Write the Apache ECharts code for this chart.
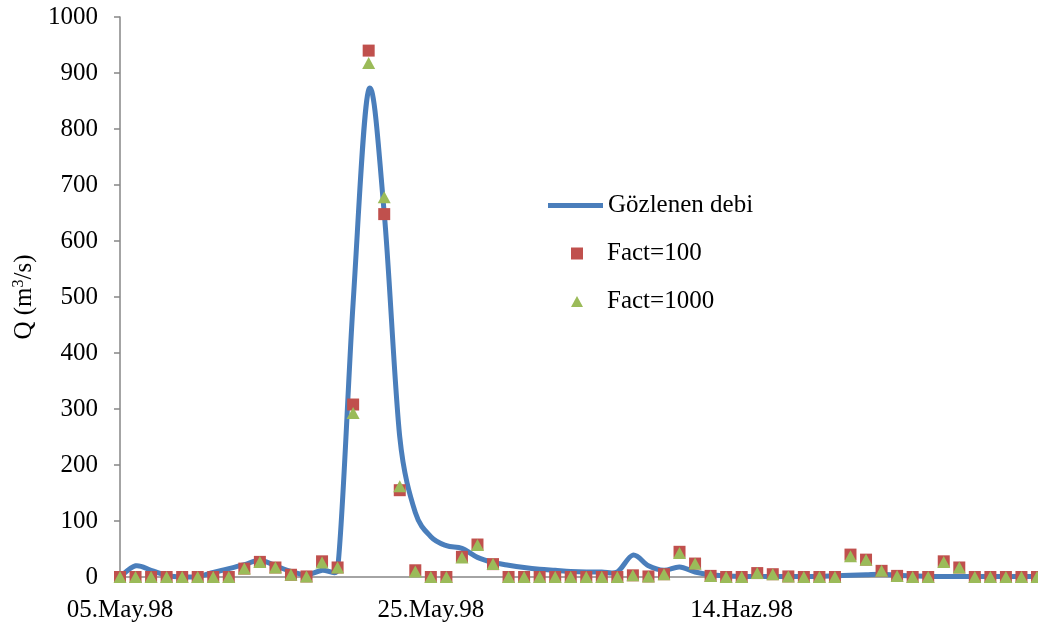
<!DOCTYPE html>
<html>
<head>
<meta charset="utf-8">
<script src="https://cdn.jsdelivr.net/npm/echarts@6/dist/echarts.min.js"></script>
<style>
  html, body { margin: 0; padding: 0; background: #ffffff; }
  #chart { width: 1038px; height: 628px; }
</style>
</head>
<body>
<div id="chart"></div>
<script>
// Daily dates, 05 May 1998 – 03 July 1998 (Turkish month abbreviations)
const days = [
  '05.May.98','06.May.98','07.May.98','08.May.98','09.May.98','10.May.98','11.May.98','12.May.98',
  '13.May.98','14.May.98','15.May.98','16.May.98','17.May.98','18.May.98','19.May.98','20.May.98',
  '21.May.98','22.May.98','23.May.98','24.May.98','25.May.98','26.May.98','27.May.98','28.May.98',
  '29.May.98','30.May.98','31.May.98',
  '01.Haz.98','02.Haz.98','03.Haz.98','04.Haz.98','05.Haz.98','06.Haz.98','07.Haz.98','08.Haz.98',
  '09.Haz.98','10.Haz.98','11.Haz.98','12.Haz.98','13.Haz.98','14.Haz.98','15.Haz.98','16.Haz.98',
  '17.Haz.98','18.Haz.98','19.Haz.98','20.Haz.98','21.Haz.98','22.Haz.98','23.Haz.98','24.Haz.98',
  '25.Haz.98','26.Haz.98','27.Haz.98','28.Haz.98','29.Haz.98','30.Haz.98',
  '01.Tem.98','02.Tem.98','03.Tem.98'
];

// Observed discharge (m3/s)
const observed = [
  0, 20, 12, 3, 0, 1, 8, 15, 22, 30,
  20, 10, 4, 12, 14, 490, 870, 650, 250, 115,
  72, 56, 51, 35, 26, 21, 17, 14, 12, 10,
  9, 9, 9, 39, 20, 12, 18, 9, 4, 2,
  1, 1, 1, 1, 1, 1, 2, 3, 4, 5,
  3, 2, 1, 1, 1, 1, 1, 1, 1, 1
];

// Simulated discharge, Fact = 100
const fact100 = [
  0, 0, 0, 0, 0, 0, 0, 0, 15, 27,
  17, 4, 1, 28, 17, 308, 940, 648, 155, 12,
  0, 0, 36, 58, 23, 0, 0, 0, 0, 0,
  0, 0, 0, 3, 1, 5, 45, 24, 2, 0,
  0, 7, 5, 1, 0, 0, 0, 40, 31, 11,
  2, 0, 0, 28, 17, 0, 0, 0, 0, 0
];

// Simulated discharge, Fact = 1000
const fact1000 = [
  0, 0, 0, 0, 0, 0, 0, 0, 15, 27,
  17, 4, 1, 26, 17, 293, 918, 678, 162, 10,
  0, 0, 35, 57, 23, 0, 0, 0, 0, 0,
  0, 0, 0, 3, 1, 5, 43, 24, 2, 0,
  0, 7, 5, 1, 0, 0, 0, 37, 31, 11,
  2, 0, 0, 27, 17, 0, 0, 0, 0, 0
];

const seriesNames = ['Gözlenen debi', 'Fact=100', 'Fact=1000'];
const labelStep = 20;   // one date label every 20 days

const FONT = '"Liberation Serif", "Times New Roman", serif';
const AXIS_GREY = '#868686';
const BLUE = '#4A7EBB', RED = '#C0504D', GREEN = '#9BBB59';

// Smoothed curve through every observed point: cubic Bezier segments with
// Catmull-Rom tangents (1/6), each control arm limited to half the length of
// the segment it belongs to so short flat segments do not overshoot.
function renderObserved(params, api) {
  if (params.dataIndex !== 0) return null;
  const n = observed.length;
  const pts = [];
  for (let i = 0; i < n; i++) pts.push(api.coord([i, observed[i]]));
  const ARM_LIMIT = 0.5;
  const arm = (a, b, from, to) => {
    let ax = (b[0] - a[0]) / 6, ay = (b[1] - a[1]) / 6;
    const len = Math.hypot(ax, ay);
    const seg = Math.hypot(to[0] - from[0], to[1] - from[1]);
    if (len > ARM_LIMIT * seg && len > 0) {
      const k = ARM_LIMIT * seg / len;
      ax *= k; ay *= k;
    }
    return [ax, ay];
  };
  let d = 'M' + pts[0][0] + ' ' + pts[0][1];
  for (let i = 0; i < n - 1; i++) {
    const p0 = pts[Math.max(i - 1, 0)];
    const p1 = pts[i];
    const p2 = pts[i + 1];
    const p3 = pts[Math.min(i + 2, n - 1)];
    const a1 = arm(p0, p2, p1, p2);
    const a2 = arm(p1, p3, p1, p2);
    const c1x = p1[0] + a1[0], c1y = p1[1] + a1[1];
    const c2x = p2[0] - a2[0], c2y = p2[1] - a2[1];
    d += ' C' + c1x + ' ' + c1y + ' ' + c2x + ' ' + c2y + ' ' + p2[0] + ' ' + p2[1];
  }
  return {
    type: 'path',
    shape: { pathData: d },
    style: { fill: 'none', stroke: BLUE, lineWidth: 5, lineJoin: 'round', lineCap: 'butt' },
    silent: true
  };
}

const legendText = { fontFamily: FONT, fontSize: 25, color: '#000000' };

const chart = echarts.init(document.getElementById('chart'), null, { renderer: 'canvas' });

chart.setOption({
  animation: false,
  backgroundColor: '#ffffff',
  textStyle: { fontFamily: FONT, color: '#000000' },
  grid: { left: 120, right: 1, top: 17, bottom: 51, containLabel: false },
  legend: [
    {
      data: [seriesNames[0]], left: 548, top: 193, padding: 0,
      icon: 'rect', itemWidth: 55, itemHeight: 5,
      itemStyle: { color: BLUE },
      textStyle: legendText
    },
    {
      data: [seriesNames[1]], left: 571, top: 241, padding: 0,
      icon: 'rect', itemWidth: 12, itemHeight: 12,
      textStyle: Object.assign({ padding: [0, 0, 0, 19] }, legendText)
    },
    {
      data: [seriesNames[2]], left: 571, top: 289, padding: 0,
      icon: 'triangle', itemWidth: 12, itemHeight: 11,
      textStyle: Object.assign({ padding: [0, 0, 0, 19] }, legendText)
    }
  ],
  xAxis: {
    type: 'category',
    data: days,
    boundaryGap: false,
    axisLine: { lineStyle: { color: AXIS_GREY, width: 1.5 } },
    axisTick: {
      show: true,
      inside: false,
      length: 6,
      interval: (i) => i % labelStep === 0,
      lineStyle: { color: AXIS_GREY, width: 1.5 }
    },
    axisLabel: {
      interval: (i) => i % labelStep === 0,
      margin: 21,
      fontFamily: FONT,
      fontSize: 25,
      color: '#000000'
    },
    splitLine: { show: false }
  },
  yAxis: {
    type: 'value',
    min: 0,
    max: 1000,
    interval: 100,
    name: '{a|Q (m}{s|3}{a|/s)}',
    nameLocation: 'middle',
    nameGap: 79,
    nameRotate: 90,
    nameTextStyle: {
      fontFamily: FONT,
      rich: {
        a: { fontFamily: FONT, fontSize: 25, lineHeight: 28, color: '#000000' },
        s: { fontFamily: FONT, fontSize: 16, lineHeight: 28, verticalAlign: 'top', color: '#000000' }
      }
    },
    axisLine: { show: true, lineStyle: { color: AXIS_GREY, width: 1.5 } },
    axisTick: { show: true, inside: false, length: 6, lineStyle: { color: AXIS_GREY, width: 1.5 } },
    axisLabel: {
      margin: 22, fontFamily: FONT, fontSize: 25, color: '#000000',
      formatter: (v) => String(v)
    },
    splitLine: { show: false }
  },
  series: [
    {
      name: seriesNames[0],
      type: 'custom',
      data: observed.map((v, i) => [i, v]),
      encode: { x: 0, y: 1 },
      renderItem: renderObserved,
      itemStyle: { color: BLUE },
      clip: false,
      z: 1
    },
    {
      name: seriesNames[1],
      type: 'scatter',
      data: fact100,
      symbol: 'rect',
      symbolSize: 12,
      itemStyle: { color: RED, opacity: 1 },
      z: 2
    },
    {
      name: seriesNames[2],
      type: 'scatter',
      data: fact1000,
      symbol: 'triangle',
      symbolSize: [13, 12],
      itemStyle: { color: GREEN, opacity: 1 },
      z: 3
    }
  ]
});
</script>
</body>
</html>
